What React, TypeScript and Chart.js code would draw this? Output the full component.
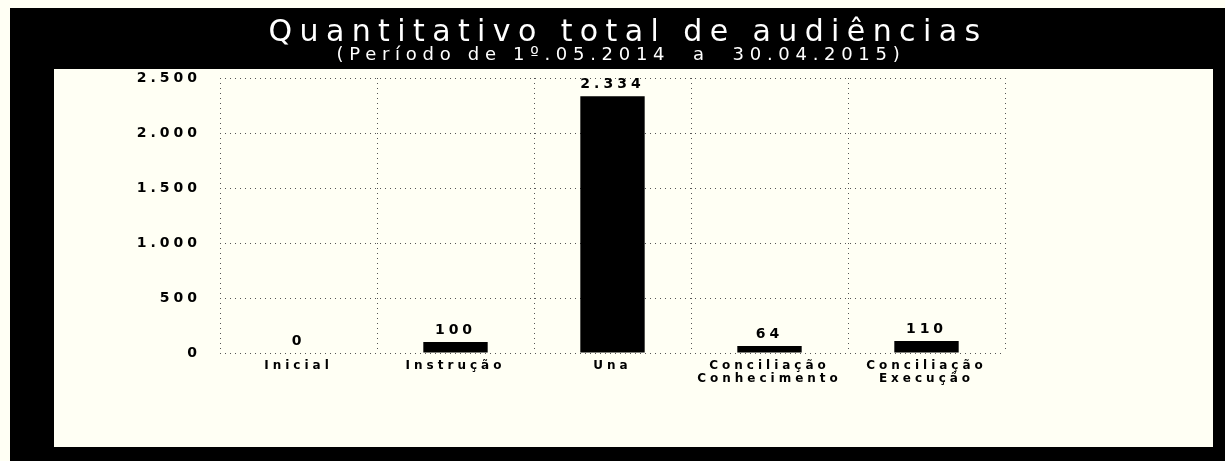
import React, { useEffect, useRef } from "react";
import { Chart, registerables } from "chart.js";

Chart.register(...registerables);

// ---- data ----
const categories: (string | string[])[] = [
  "Inicial",
  "Instrução",
  "Una",
  ["Conciliação", "Conhecimento"],
  ["Conciliação", "Execução"],
];
const audiencias: number[] = [0, 100, 2334, 64, 110];
const yTickValues: number[] = [0, 500, 1000, 1500, 2000, 2500];
const titleText = "Quantitativo total de audiências";
const subtitleText = "(Período de 1º.05.2014  a  30.04.2015)";

// ---- style ----
const W = 1225;
const H = 461;
const PAPER = "#fffff4";
const FONT = "'DejaVu Sans', 'Liberation Sans', sans-serif";
const SPACING = "4px";

const fmt = (v: number) =>
  String(Math.round(v)).replace(/\B(?=(\d{3})+(?!\d))/g, ".");

const framePlugin = {
  id: "frame",
  beforeDraw(chart: any) {
    const ctx = chart.ctx;
    ctx.save();
    ctx.fillStyle = PAPER;
    ctx.fillRect(0, 0, W, H);
    ctx.fillStyle = "#000";
    ctx.fillRect(10, 8, W - 10, 61);
    ctx.fillRect(10, 8, 44, H - 8);
    ctx.fillRect(10, 447, W - 10, H - 447);
    ctx.fillRect(1213, 8, W - 1213, H - 8);
    ctx.fillStyle = "#fff";
    ctx.textAlign = "center";
    ctx.textBaseline = "alphabetic";
    ctx.font = `30px ${FONT}`;
    (ctx as any).letterSpacing = "7.4px";
    ctx.fillText(titleText, 628, 41);
    ctx.font = `18px ${FONT}`;
    (ctx as any).letterSpacing = "5.7px";
    ctx.fillText(subtitleText, 621, 60);
    ctx.restore();
    (ctx as any).letterSpacing = SPACING;
  },
  afterDraw(chart: any) {
    (chart.ctx as any).letterSpacing = "0px";
  },
};

const valueLabelPlugin = {
  id: "valueLabels",
  afterDatasetsDraw(chart: any) {
    const ctx = chart.ctx;
    const meta = chart.getDatasetMeta(0);
    ctx.save();
    ctx.font = `bold 14px ${FONT}`;
    (ctx as any).letterSpacing = SPACING;
    ctx.fillStyle = "#000";
    ctx.textAlign = "center";
    ctx.textBaseline = "bottom";
    meta.data.forEach((bar: any, i: number) => {
      ctx.fillText(fmt(audiencias[i]), bar.x, bar.y - 5);
    });
    ctx.restore();
  },
};

export default function App() {
  const canvasRef = useRef<HTMLCanvasElement | null>(null);

  useEffect(() => {
    if (!canvasRef.current) return;
    const gridStyle = {
      color: "#555",
      lineWidth: 1,
      drawTicks: false,
    };
    const chart = new Chart(canvasRef.current, {
      type: "bar",
      data: {
        labels: categories as any,
        datasets: [
          {
            data: audiencias,
            backgroundColor: "#000",
            borderWidth: 0,
            barPercentage: 0.41,
            categoryPercentage: 1,
          },
        ],
      },
      options: {
        responsive: false,
        animation: false,
        devicePixelRatio: 1,
        layout: { padding: { left: 60, right: 220, top: 78, bottom: 48 } },
        plugins: {
          legend: { display: false },
          title: { display: false },
          tooltip: { enabled: false },
        },
        scales: {
          x: {
            grid: { ...gridStyle, offset: true },
            border: { display: false, dash: [1, 4] },
            ticks: {
              color: "#000",
              font: { family: FONT, size: 12, weight: "bold", lineHeight: 1.08 },
              padding: 6,
              maxRotation: 0,
              autoSkip: false,
            },
            afterFit: (s: any) => {
              s.height = 60;
            },
          },
          y: {
            min: 0,
            max: 2500,
            afterBuildTicks: (s: any) => {
              s.ticks = yTickValues.map((v) => ({ value: v }));
            },
            grid: gridStyle,
            border: { display: false, dash: [1, 4] },
            ticks: {
              color: "#000",
              font: { family: FONT, size: 14, weight: "bold" },
              padding: 19,
              callback: (v: any) => fmt(Number(v)),
            },
            afterFit: (s: any) => {
              s.width = 160;
            },
          },
        },
      } as any,
      plugins: [framePlugin, valueLabelPlugin],
    });
    return () => chart.destroy();
  }, []);

  return (
    <div style={{ position: "fixed", left: 0, top: 0, width: W, height: H }}>
      <canvas
        ref={canvasRef}
        width={W}
        height={H}
        style={{ width: W, height: H, display: "block" }}
      />
    </div>
  );
}
